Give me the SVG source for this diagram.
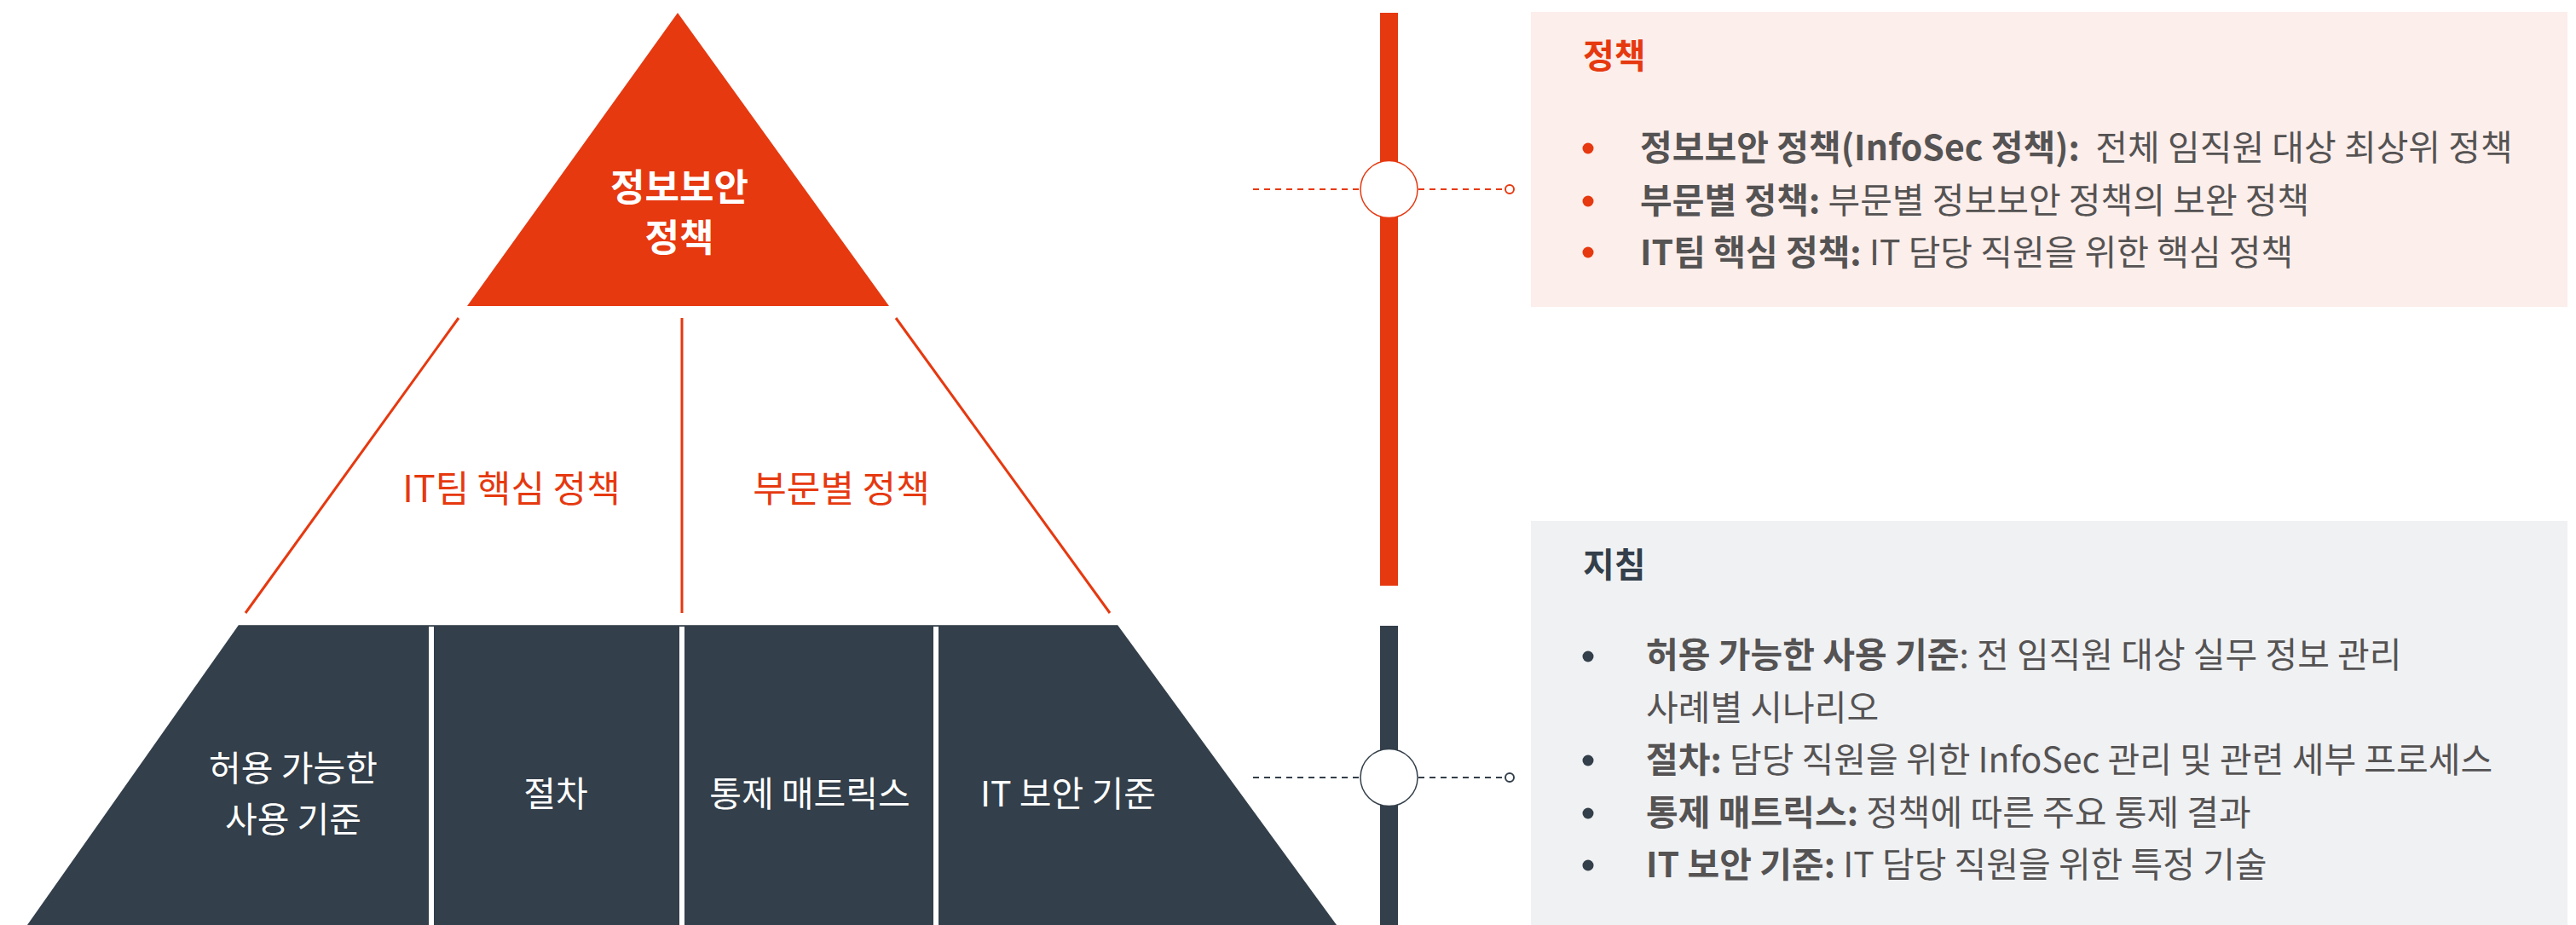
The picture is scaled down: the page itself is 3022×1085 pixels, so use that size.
<svg xmlns="http://www.w3.org/2000/svg" width="3022" height="1085" viewBox="0 0 3022 1085">
<style>
text{font-family:"Noto Sans CJK KR","Noto Sans",sans-serif;white-space:pre}
.red{fill:#E63910}
.dark{fill:#333F4A}
.lbl-w{fill:#ffffff;font-size:41px}
.lbl-top{fill:#ffffff;font-size:44px;font-weight:700}
.lbl-r{fill:#E63910;font-size:43px}
.title{font-size:40px;font-weight:700}
.body{font-size:41px;fill:#555353}
.b{font-weight:700}
.dash-r{stroke:#E63910;stroke-width:2;stroke-dasharray:7 6;fill:none}
.dash-d{stroke:#333F4A;stroke-width:2;stroke-dasharray:7 6;fill:none}
</style>
<rect width="3022" height="1085" fill="#ffffff"/>

<g id="pyramid-top">
<polygon points="795,15 1043,359 548,359" class="red"/>
<text class="lbl-top" x="797" y="236" text-anchor="middle">정보보안</text>
<text class="lbl-top" x="797" y="295" text-anchor="middle">정책</text>
</g>

<g id="pyramid-middle">
<g stroke="#E63910" stroke-width="3" fill="none">
<line x1="538" y1="373" x2="288" y2="719"/>
<line x1="1051" y1="373" x2="1302" y2="719"/>
<line x1="800" y1="373" x2="800" y2="719"/>
</g>
<text class="lbl-r" x="600" y="589" text-anchor="middle">IT팀 핵심 정책</text>
<text class="lbl-r" x="987" y="589" text-anchor="middle">부문별 정책</text>
</g>

<g id="pyramid-bottom">
<polygon points="280,733 1311,733 1568,1085 32,1085" class="dark"/>
<line x1="280" y1="733.5" x2="1311" y2="733.5" stroke="#5d6770" stroke-width="1"/>
<g fill="#ffffff">
<rect x="503" y="735" width="6" height="350"/>
<rect x="797" y="735" width="6" height="350"/>
<rect x="1095" y="735" width="6" height="350"/>
</g>
<text class="lbl-w" x="344" y="916" text-anchor="middle">허용 가능한</text>
<text class="lbl-w" x="344" y="976" text-anchor="middle">사용 기준</text>
<text class="lbl-w" x="652" y="946" text-anchor="middle">절차</text>
<text class="lbl-w" x="950" y="946" text-anchor="middle">통제 매트릭스</text>
<text class="lbl-w" x="1253" y="946" text-anchor="middle">IT 보안 기준</text>
</g>

<g id="timeline">
<rect x="1619" y="15" width="21" height="672" class="red"/>
<rect x="1619" y="734" width="21" height="351" class="dark"/>
</g>

<g id="connectors">
<line x1="1470" y1="222" x2="1596" y2="222" class="dash-r"/>
<line x1="1664" y1="222" x2="1766" y2="222" class="dash-r"/>
<circle cx="1629.5" cy="222" r="33.5" fill="#ffffff" stroke="#E63910" stroke-width="1.5"/>
<circle cx="1771" cy="222" r="5" fill="#ffffff" stroke="#E63910" stroke-width="2"/>
<line x1="1470" y1="912" x2="1596" y2="912" class="dash-d"/>
<line x1="1664" y1="912" x2="1766" y2="912" class="dash-d"/>
<circle cx="1629.5" cy="912" r="33.5" fill="#ffffff" stroke="#333F4A" stroke-width="1.5"/>
<circle cx="1771" cy="912" r="5" fill="#ffffff" stroke="#333F4A" stroke-width="2"/>
</g>

<g id="policy-box">
<rect x="1796" y="14" width="1216" height="346" fill="#FCEEEB"/>
<text class="title red" x="1857" y="80">정책</text>
<g class="red">
<circle cx="1863" cy="174" r="6.5"/>
<circle cx="1863" cy="236" r="6.5"/>
<circle cx="1863" cy="296" r="6.5"/>
</g>
<text class="body" x="1924" y="188"><tspan class="b">정보보안 정책(InfoSec 정책):</tspan>  전체 임직원 대상 최상위 정책</text>
<text class="body" x="1924" y="250"><tspan class="b">부문별 정책:</tspan> 부문별 정보보안 정책의 보완 정책</text>
<text class="body" x="1924" y="311"><tspan class="b">IT팀 핵심 정책:</tspan> IT 담당 직원을 위한 핵심 정책</text>
</g>

<g id="guideline-box">
<rect x="1796" y="611" width="1216" height="474" fill="#F0F1F3"/>
<text class="title dark" x="1857" y="677">지침</text>
<g class="dark">
<circle cx="1863" cy="770" r="6.5"/>
<circle cx="1863" cy="892" r="6.5"/>
<circle cx="1863" cy="954" r="6.5"/>
<circle cx="1863" cy="1015" r="6.5"/>
</g>
<text class="body" x="1931" y="783"><tspan class="b">허용 가능한 사용 기준</tspan>: 전 임직원 대상 실무 정보 관리</text>
<text class="body" x="1931" y="845">사례별 시나리오</text>
<text class="body" x="1931" y="906"><tspan class="b">절차:</tspan> 담당 직원을 위한 InfoSec 관리 및 관련 세부 프로세스</text>
<text class="body" x="1931" y="968"><tspan class="b">통제 매트릭스:</tspan> 정책에 따른 주요 통제 결과</text>
<text class="body" x="1931" y="1029"><tspan class="b">IT 보안 기준:</tspan> IT 담당 직원을 위한 특정 기술</text>
</g>
</svg>
